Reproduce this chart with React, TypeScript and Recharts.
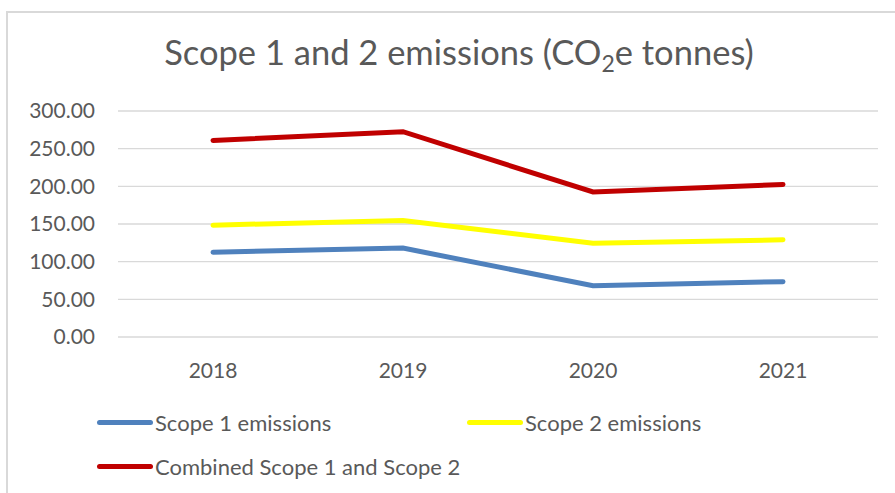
import { CartesianGrid, Line, LineChart, XAxis, YAxis } from "recharts";

const years = ["2018", "2019", "2020", "2021"];
const scope1 = [112.5, 118, 68, 73.5];
const scope2 = [148.5, 154.5, 124.5, 129];
const combined = [261, 272.5, 192.5, 202.5];
const yTicks = [0, 50, 100, 150, 200, 250, 300];

const seriesInfo = [
  { key: "scope1", name: "Scope 1 emissions", color: "#4F81BD" },
  { key: "scope2", name: "Scope 2 emissions", color: "#FFFF00" },
  { key: "combined", name: "Combined Scope 1 and Scope 2", color: "#C00000" },
];

const data = years.map((year, i) => ({
  year,
  scope1: scope1[i],
  scope2: scope2[i],
  combined: combined[i],
}));

const FONT = "Lato, 'Open Sans', sans-serif";
const TEXT = "#595959";

const LegendBox = () => (
  <div style={{ fontFamily: FONT, fontSize: 22, color: TEXT }}>
    {[[seriesInfo[0], seriesInfo[1]], [seriesInfo[2]]].map((row, r) => (
      <div key={r} style={{ display: "flex", height: 44, alignItems: "center" }}>
        {row.map((s) => (
          <div key={s.key} style={{ display: "flex", alignItems: "center", width: 370 }}>
            <span
              style={{
                display: "inline-block",
                width: 56,
                height: 5,
                borderRadius: 3,
                background: s.color,
                marginRight: 2,
              }}
            />
            <span>{s.name}</span>
          </div>
        ))}
      </div>
    ))}
  </div>
);

export default function App() {
  return (
    <div
      style={{
        position: "absolute",
        left: 0,
        top: 0,
        width: 895,
        height: 493,
        overflow: "hidden",
        background: "#fff",
      }}
    >
      <div
        style={{
          position: "absolute",
          left: 6,
          top: 11,
          width: 1200,
          height: 1200,
          border: "2px solid #d9d9d9",
        }}
      />
      <div
        style={{
          position: "absolute",
          left: 0,
          top: 31,
          width: 918,
          textAlign: "center",
          fontFamily: FONT,
          fontSize: 34.5,
          color: TEXT,
          whiteSpace: "nowrap",
        }}
      >
        Scope 1 and 2 emissions (CO<sub style={{ fontSize: 23, verticalAlign: -7 }}>2</sub>e tonnes)
      </div>
      <LineChart
        width={895}
        height={493}
        data={data}
        margin={{ top: 111, right: 17, left: 0, bottom: 116 }}
        style={{ position: "absolute", left: 0, top: 0 }}
      >
        <CartesianGrid vertical={false} stroke="#d9d9d9" strokeWidth={1.3} />
        <XAxis
          dataKey="year"
          axisLine={false}
          tickLine={false}
          tickSize={0}
          tickMargin={26}
          height={40}
          padding={{ left: 95, right: 95 }}
          tick={{ fill: TEXT, fontSize: 21, fontFamily: FONT }}
        />
        <YAxis
          domain={[0, 300]}
          ticks={yTicks}
          width={118}
          axisLine={false}
          tickLine={false}
          tickSize={0}
          tickMargin={23}
          tickFormatter={(v: number) => v.toFixed(2)}
          tick={{ fill: TEXT, fontSize: 21, fontFamily: FONT }}
        />
        {seriesInfo.map((s) => (
          <Line
            key={s.key}
            type="linear"
            dataKey={s.key}
            name={s.name}
            stroke={s.color}
            strokeWidth={5}
            strokeLinecap="round"
            dot={false}
            activeDot={false}
            isAnimationActive={false}
          />
        ))}
      </LineChart>
      <div style={{ position: "absolute", top: 400, left: 97, width: 790 }}>
        <LegendBox />
      </div>
    </div>
  );
}
